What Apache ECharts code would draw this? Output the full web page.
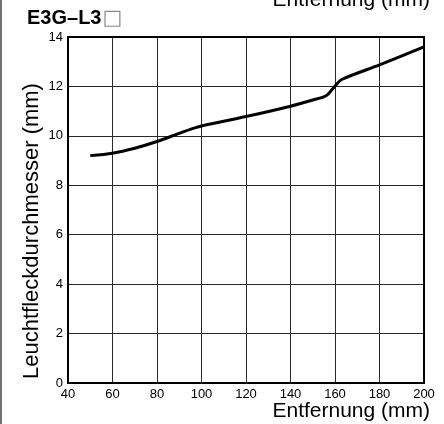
<!DOCTYPE html>
<html>
<head>
<meta charset="utf-8">
<script src="https://cdn.jsdelivr.net/npm/echarts@6/dist/echarts.min.js"></script>
<style>
  html, body { margin: 0; padding: 0; background: #fff; }
  #chart { width: 444px; height: 424px; }
</style>
</head>
<body>
<div id="chart"></div>
<script>
// Spot diameter vs. sensing distance, E3G-L3 series
const distanceMm = [50, 60, 70, 80, 90, 97, 100, 120, 140, 150, 156, 160, 163, 180, 200];
const spotDiameterMm = [9.2, 9.3, 9.5, 9.77, 10.1, 10.32, 10.4, 10.78, 11.2, 11.45, 11.62, 12.02, 12.28, 12.87, 13.6];
const xTicks = [40, 60, 80, 100, 120, 140, 160, 180, 200];
const yTicks = [0, 2, 4, 6, 8, 10, 12, 14];
const modelName = 'E3G\u2013L3';
const modelSuffix = '\u25A1';
const xName = 'Entfernung (mm)';
const yName = 'Leuchtfleckdurchmesser (mm)';

const font = '"Liberation Sans", Arial, sans-serif';
const chart = echarts.init(document.getElementById('chart'), null, { renderer: 'canvas' });

chart.setOption({
  animation: false,
  backgroundColor: '#ffffff',
  grid: { left: 68, right: 20, top: 37, bottom: 41 },
  xAxis: {
    type: 'value',
    min: xTicks[0],
    max: xTicks[xTicks.length - 1],
    interval: 20,
    axisLine: { show: true, lineStyle: { color: '#000', width: 2 } },
    axisTick: { show: false },
    axisLabel: { color: '#000', fontSize: 13, fontFamily: font, margin: 5 },
    splitLine: { show: true, lineStyle: { color: '#2a2a2a', width: 1 } }
  },
  yAxis: {
    type: 'value',
    min: yTicks[0],
    max: yTicks[yTicks.length - 1],
    interval: 2,
    axisLine: { show: true, lineStyle: { color: '#000', width: 2 } },
    axisTick: { show: false },
    axisLabel: { color: '#000', fontSize: 13, fontFamily: font, margin: 5 },
    splitLine: { show: true, lineStyle: { color: '#2a2a2a', width: 1 } }
  },
  series: [{
    type: 'line',
    data: distanceMm.map((d, i) => [d, spotDiameterMm[i]]),
    smooth: 0.3,
    showSymbol: false,
    lineStyle: { color: '#000', width: 3 },
    z: 5
  }],
  graphic: [
    // frame around the plot box
    { type: 'rect', shape: { x: 68, y: 37, width: 356, height: 346 },
      style: { fill: 'none', stroke: '#000', lineWidth: 2 }, z: 10 },
    // left page edge line
    { type: 'line', shape: { x1: 1, y1: 0, x2: 1, y2: 424 },
      style: { stroke: '#444', lineWidth: 1.5 } },
    { type: 'text', x: 27, y: 29,
      style: {
        text: '{m|' + modelName + '}{b|' + modelSuffix + '}',
        verticalAlign: 'bottom',
        rich: {
          m: { font: 'bold 20px ' + font, fill: '#000' },
          b: { font: '21px "DejaVu Sans", sans-serif', fill: '#888', padding: [0, 0, 0, 1] }
        }
      } },
    { type: 'text', x: 430, y: 11,
      style: { text: xName, font: '21px ' + font, fill: '#000',
               align: 'right', verticalAlign: 'bottom' } },
    { type: 'text', x: 430, y: 422,
      style: { text: xName, font: '21px ' + font, fill: '#000',
               align: 'right', verticalAlign: 'bottom' } },
    { type: 'text', x: 32, y: 231, rotation: Math.PI / 2,
      style: { text: yName, font: '22px ' + font, fill: '#000',
               align: 'center', verticalAlign: 'middle' } }
  ]
});
</script>
</body>
</html>
